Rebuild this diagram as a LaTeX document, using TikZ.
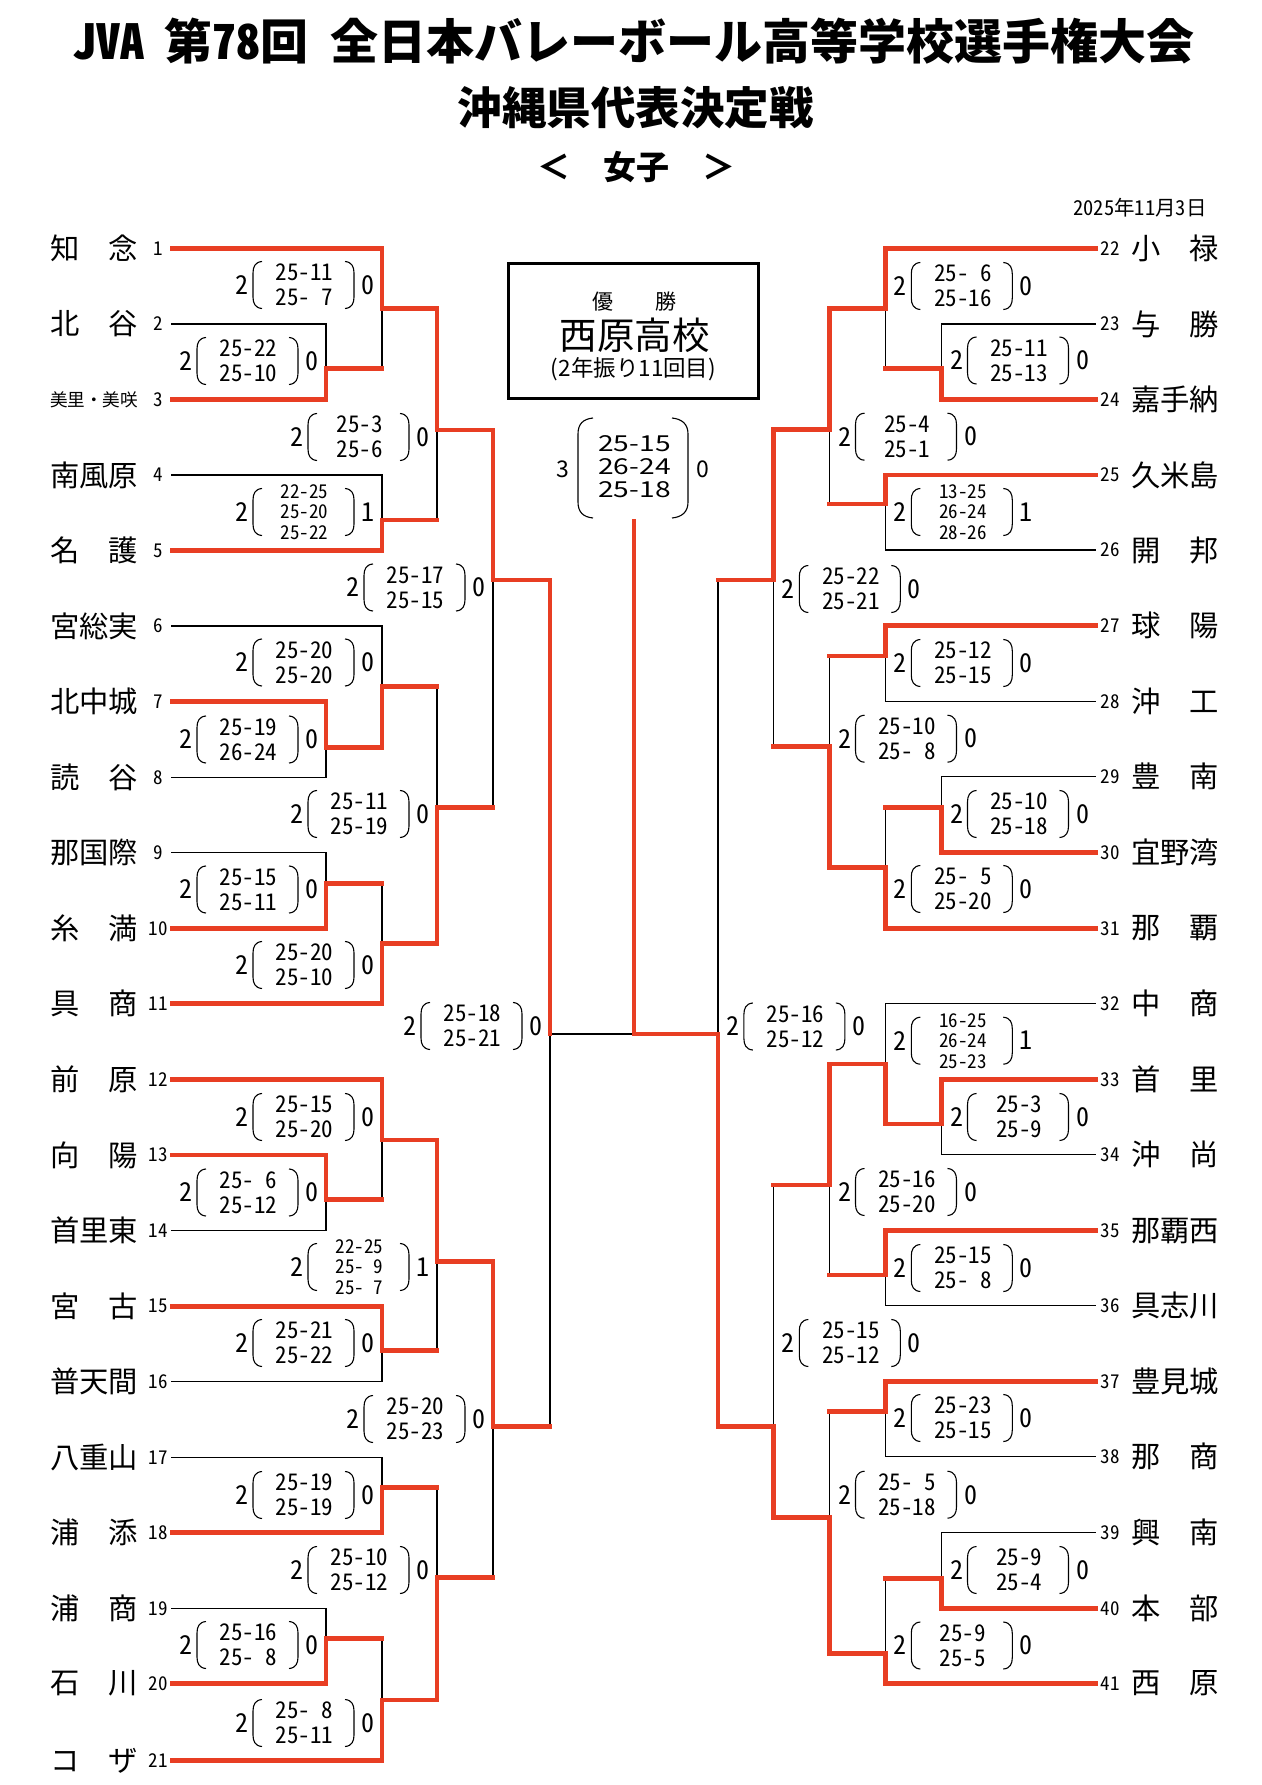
\documentclass[tikz,border=0pt]{standalone}
\usepackage{fontspec}
\usepackage{graphicx}
\newfontfamily\jp{Noto Sans CJK JP}
\newfontfamily\jph[RawFeature=+hwid]{Noto Sans CJK JP}
\definecolor{vred}{RGB}{232,62,35}
\pgfdeclarelayer{back}
\pgfdeclarelayer{bg}
\pgfsetlayers{back,bg,main}
\tikzset{
  win/.style={draw=vred, line width=4.7pt, line cap=rect},
  lose/.style={draw=black, line width=1.5pt, line cap=rect},
  tname/.style={font=\jp\fontsize{29.3}{30}\selectfont, inner sep=0pt},
  tnames/.style={font=\jp\fontsize{17.6}{18}\selectfont, inner sep=0pt},
  tnum/.style={font=\jph\fontsize{19}{20}\selectfont, inner sep=0pt},
  scnum/.style={font=\jph\fontsize{26}{26}\selectfont, inner sep=0pt},
  sctwo/.style={font=\jph\fontsize{23}{25}\selectfont, align=center, inner sep=0pt},
  scthree/.style={font=\jph\fontsize{19}{20.5}\selectfont, align=center, inner sep=0pt},
  brk/.style={draw=black, line width=1.1pt},
  wbox/.style={draw=black, line width=3.3pt, minimum width=250pt, minimum height=135pt, inner sep=0pt},
}
% match: id, X, ywin, ylose, yout, Xnext, outstyle
\newcommand\mybout[7]{%
  \coordinate (#1w) at (#2,#3);
  \coordinate (#1l) at (#2,#4);
  \coordinate (#1o) at (#2,#5);
  \coordinate (#1n) at (#6,#5);
  \begin{pgfonlayer}{bg}\draw[lose] (#1l) -- (#1o);\end{pgfonlayer}
  \draw[win] (#1w) -- (#1o);
  \draw[#7] (#1o) -- (#1n);
}
% team left: num, y, name, target, linestyle, namestyle
\newcommand\myteamL[6]{%
  \node[tnum] (tn#1) at (158,#2) {#1};
  \node[#6] (tm#1) at (94,#2) {#3};
  \coordinate (ts#1) at (172,#2);
  \draw[#5] (ts#1) -- (ts#1 -| #4);
}
\newcommand\myteamR[6]{%
  \node[tnum] (tn#1) at (1110,#2) {#1};
  \node[#6] (tm#1) at (1175,#2) {#3};
  \coordinate (ts#1) at (1095.3,#2);
  \draw[#5] (ts#1) -- (ts#1 -| #4);
}
% score: id, c, y, left, lines, right, style
\newcommand\myscore[7]{%
  \node[scnum] (#1a) at (#2,#3) {#4};
  \node[#7] (#1b) at (#2+62.5,#3) {#5};
  \node[scnum] (#1c) at (#2+126,#3) {#6};
  \draw[brk] (#2+20,#3-23.5) .. controls (#2+13,#3-23) and (#2+11,#3-18) .. (#2+11,#3-12) -- (#2+11,#3+12) .. controls (#2+11,#3+18) and (#2+13,#3+23) .. (#2+20,#3+23.5);
  \draw[brk] (#2+103,#3-23.5) .. controls (#2+110,#3-23) and (#2+112,#3-18) .. (#2+112,#3-12) -- (#2+112,#3+12) .. controls (#2+112,#3+18) and (#2+110,#3+23) .. (#2+103,#3+23.5);
}
\begin{document}
\begin{tikzpicture}[x=1pt,y=-1pt]
\begin{pgfonlayer}{back}
\fill[white] (0,0) rectangle (1261,1785);
\end{pgfonlayer}
\useasboundingbox (0,0) rectangle (1261,1785);

% titles
\node[anchor=west, inner sep=0pt, font=\jp\bfseries\fontsize{48}{48}\selectfont] (title1) at (72,41)
  {{\jph\bfseries JVA}\hspace{20pt}第{\jph\bfseries 78}回\hspace{22pt}全日本バレーボール高等学校選手権大会};
\node[inner sep=0pt, font=\jp\bfseries\fontsize{44.5}{45}\selectfont] (title2) at (635.5,108) {沖縄県代表決定戦};
\node[inner sep=0pt, font=\jp\bfseries\fontsize{33}{33}\selectfont] (title3) at (636,167) {＜　女子　＞};
\node[inner sep=0pt, font=\jph\fontsize{20.5}{21}\selectfont] (date) at (1140,208) {2025年11月3日};

% champion box
\node[wbox] (champ) at (633.3,330.8) {};
\node[inner sep=0pt, font=\jp\fontsize{21}{22}\selectfont] (yusho) at (634.5,302) {優\hspace{43pt}勝};
\node[inner sep=0pt, font=\jp\fontsize{37.5}{38}\selectfont] (wname) at (634.5,335) {西原高校};
\node[inner sep=0pt, font=\jp\fontsize{22.5}{23}\selectfont] (wtimes) at (633.5,369) {(2年振り11回目)};

% final score
\node[inner sep=0pt, font=\jp\fontsize{23}{23}\selectfont] (fa) at (563,469) {3};
\node[inner sep=0pt, font=\jp\fontsize{23}{23}\selectfont] (fc) at (703,469) {0};
\node[inner sep=0pt] (fb) at (634.5,467) {\scalebox{1.28}[1]{\parbox{70pt}{\centering\jp\fontsize{22}{23}\selectfont 25-15\\26-24\\25-18}}};
\draw[brk] (593,418) .. controls (583,419) and (578,424) .. (578,434) -- (578,502) .. controls (578,512) and (583,517) .. (593,518);
\draw[brk] (672,418) .. controls (682,419) and (688,424) .. (688,434) -- (688,502) .. controls (688,512) and (682,517) .. (672,518);

% left matches
\mybout{A1}{326}{399.5}{324}{368.3}{382}{win}
\mybout{A2}{382}{248.3}{368.3}{308.3}{437}{win}
\mybout{A3}{382}{550.5}{475}{520}{437}{win}
\mybout{A4}{437}{308.3}{520}{430}{493}{win}
\mybout{A5}{326}{701.7}{777.3}{747.3}{382}{win}
\mybout{A6}{382}{747.3}{626}{686.7}{437}{win}
\mybout{A7}{326}{928.3}{852.7}{883.3}{382}{win}
\mybout{A8}{382}{1003.5}{883.3}{943.3}{437}{win}
\mybout{A9}{437}{943.3}{686.7}{807.3}{493}{win}
\mybout{A10}{493}{430}{807.3}{580}{550}{win}
\mybout{A11}{326}{1155}{1230.7}{1199.3}{382}{win}
\mybout{A12}{382}{1079.3}{1199.3}{1140}{437}{win}
\mybout{A13}{382}{1306.3}{1381.7}{1350.7}{437}{win}
\mybout{A14}{437}{1140}{1350.7}{1261.7}{493}{win}
\mybout{A15}{382}{1532.7}{1457.3}{1487.3}{437}{win}
\mybout{A16}{326}{1683.3}{1608.3}{1638.3}{382}{win}
\mybout{A17}{382}{1760.7}{1638.3}{1700}{437}{win}
\mybout{A18}{437}{1700}{1487.3}{1577.3}{493}{win}
\mybout{A19}{493}{1261.7}{1577.3}{1426.7}{550}{win}
\coordinate (A20w) at (550,580);
\coordinate (A20l) at (550,1426.7);
\coordinate (A20o) at (550,1034);
\coordinate (FJ) at (634,1034);
\coordinate (FT) at (634,521);
\begin{pgfonlayer}{bg}
\draw[lose] (A20l) -- (A20o);
\draw[lose] (A20o) -- (FJ);
\end{pgfonlayer}
\draw[win] (A20w) -- (A20o);

% right matches
\mybout{B1}{941.5}{399.3}{324}{368.3}{885.3}{win}
\mybout{B2}{885.3}{248.3}{368.3}{308.3}{829.5}{win}
\mybout{B3}{885.3}{475}{550}{504}{829.5}{win}
\mybout{B4}{829.5}{308.3}{504}{429.3}{773.3}{win}
\mybout{B5}{885.3}{625.7}{701.7}{656}{829.5}{win}
\mybout{B6}{941.5}{852.7}{776.7}{807.7}{885.3}{win}
\mybout{B7}{885.3}{928.3}{807.7}{867.3}{829.5}{win}
\mybout{B8}{829.5}{867.3}{656}{746.7}{773.3}{win}
\mybout{B9}{773.3}{429.3}{746.7}{580}{717.9}{win}
\mybout{B10}{941.5}{1079.3}{1154.3}{1124}{885.3}{win}
\mybout{B11}{885.3}{1124}{1003.3}{1064}{829.5}{win}
\mybout{B12}{885.3}{1230.7}{1305.7}{1275}{829.5}{win}
\mybout{B13}{829.5}{1064}{1275}{1185}{773.3}{win}
\mybout{B14}{885.3}{1381.7}{1456.7}{1411.7}{829.5}{win}
\mybout{B15}{941.5}{1608.3}{1532.7}{1578.3}{885.3}{win}
\mybout{B16}{885.3}{1683.3}{1578.3}{1653.3}{829.5}{win}
\mybout{B17}{829.5}{1653.3}{1411.7}{1517.3}{773.3}{win}
\mybout{B18}{773.3}{1517.3}{1185}{1426.7}{717.9}{win}
\mybout{B19}{717.9}{1426.7}{580}{1034}{634}{win}
\draw[win] (FT) -- (FJ);

% left teams
\myteamL{1}{248.3}{知　念}{A2w}{win}{tname}
\myteamL{2}{324}{北　谷}{A1l}{lose}{tname}
\myteamL{3}{399.5}{美里・美咲}{A1w}{win}{tnames}
\myteamL{4}{475}{南風原}{A3l}{lose}{tname}
\myteamL{5}{550.5}{名　護}{A3w}{win}{tname}
\myteamL{6}{626}{宮総実}{A6l}{lose}{tname}
\myteamL{7}{701.7}{北中城}{A5w}{win}{tname}
\myteamL{8}{777.3}{読　谷}{A5l}{lose}{tname}
\myteamL{9}{852.7}{那国際}{A7l}{lose}{tname}
\myteamL{10}{928.3}{糸　満}{A7w}{win}{tname}
\myteamL{11}{1003.5}{具　商}{A8w}{win}{tname}
\myteamL{12}{1079.3}{前　原}{A12w}{win}{tname}
\myteamL{13}{1155}{向　陽}{A11w}{win}{tname}
\myteamL{14}{1230.7}{首里東}{A11l}{lose}{tname}
\myteamL{15}{1306.3}{宮　古}{A13w}{win}{tname}
\myteamL{16}{1381.7}{普天間}{A13l}{lose}{tname}
\myteamL{17}{1457.3}{八重山}{A15l}{lose}{tname}
\myteamL{18}{1532.7}{浦　添}{A15w}{win}{tname}
\myteamL{19}{1608.3}{浦　商}{A16l}{lose}{tname}
\myteamL{20}{1683.3}{石　川}{A16w}{win}{tname}
\myteamL{21}{1760.7}{コ　ザ}{A17w}{win}{tname}

% right teams
\myteamR{22}{248.3}{小　禄}{B2w}{win}{tname}
\myteamR{23}{324}{与　勝}{B1l}{lose}{tname}
\myteamR{24}{399.3}{嘉手納}{B1w}{win}{tname}
\myteamR{25}{475}{久米島}{B3w}{win}{tname}
\myteamR{26}{550}{開　邦}{B3l}{lose}{tname}
\myteamR{27}{625.7}{球　陽}{B5w}{win}{tname}
\myteamR{28}{701.7}{沖　工}{B5l}{lose}{tname}
\myteamR{29}{776.7}{豊　南}{B6l}{lose}{tname}
\myteamR{30}{852.7}{宜野湾}{B6w}{win}{tname}
\myteamR{31}{928.3}{那　覇}{B7w}{win}{tname}
\myteamR{32}{1003.3}{中　商}{B11l}{lose}{tname}
\myteamR{33}{1079.3}{首　里}{B10w}{win}{tname}
\myteamR{34}{1154.3}{沖　尚}{B10l}{lose}{tname}
\myteamR{35}{1230.7}{那覇西}{B12w}{win}{tname}
\myteamR{36}{1305.7}{具志川}{B12l}{lose}{tname}
\myteamR{37}{1381.7}{豊見城}{B14w}{win}{tname}
\myteamR{38}{1456.7}{那　商}{B14l}{lose}{tname}
\myteamR{39}{1532.7}{興　南}{B15l}{lose}{tname}
\myteamR{40}{1608.3}{本　部}{B15w}{win}{tname}
\myteamR{41}{1683.3}{西　原}{B16w}{win}{tname}

% left scores
\myscore{sAb}{242}{285}{2}{25-11\\25-\phantom{0}7}{0}{sctwo}
\myscore{sAa}{186}{361}{2}{25-22\\25-10}{0}{sctwo}
\myscore{sAd}{297}{437}{2}{25-3\\25-6}{0}{sctwo}
\myscore{sAc}{242}{512}{2}{22-25\\25-20\\25-22}{1}{scthree}
\myscore{sAj}{353}{587.5}{2}{25-17\\25-15}{0}{sctwo}
\myscore{sAf}{242}{662.5}{2}{25-20\\25-20}{0}{sctwo}
\myscore{sAe}{186}{739.5}{2}{25-19\\26-24}{0}{sctwo}
\myscore{sAi}{297}{814}{2}{25-11\\25-19}{0}{sctwo}
\myscore{sAg}{186}{889.5}{2}{25-15\\25-11}{0}{sctwo}
\myscore{sAh}{242}{965}{2}{25-20\\25-10}{0}{sctwo}
\myscore{sAt}{410}{1026}{2}{25-18\\25-21}{0}{sctwo}
\myscore{sAl}{242}{1117}{2}{25-15\\25-20}{0}{sctwo}
\myscore{sAk}{186}{1192.5}{2}{25-\phantom{0}6\\25-12}{0}{sctwo}
\myscore{sAn}{297}{1267}{2}{22-25\\25-\phantom{0}9\\25-\phantom{0}7}{1}{scthree}
\myscore{sAm}{242}{1343}{2}{25-21\\25-22}{0}{sctwo}
\myscore{sAs}{353}{1419}{2}{25-20\\25-23}{0}{sctwo}
\myscore{sAo}{242}{1495}{2}{25-19\\25-19}{0}{sctwo}
\myscore{sAr}{297}{1570}{2}{25-10\\25-12}{0}{sctwo}
\myscore{sAp}{186}{1645}{2}{25-16\\25-\phantom{0}8}{0}{sctwo}
\myscore{sAq}{242}{1723}{2}{25-\phantom{0}8\\25-11}{0}{sctwo}

% right scores
\myscore{sBb}{900.3}{286}{2}{25-\phantom{0}6\\25-16}{0}{sctwo}
\myscore{sBa}{956.5}{360.5}{2}{25-11\\25-13}{0}{sctwo}
\myscore{sBd}{844.5}{436.7}{2}{25-4\\25-1}{0}{sctwo}
\myscore{sBc}{900.3}{512}{2}{13-25\\26-24\\28-26}{1}{scthree}
\myscore{sBi}{788.3}{589}{2}{25-22\\25-21}{0}{sctwo}
\myscore{sBe}{900.3}{663}{2}{25-12\\25-15}{0}{sctwo}
\myscore{sBh}{844.5}{738.7}{2}{25-10\\25-\phantom{0}8}{0}{sctwo}
\myscore{sBf}{956.5}{814}{2}{25-10\\25-18}{0}{sctwo}
\myscore{sBg}{900.3}{889}{2}{25-\phantom{0}5\\25-20}{0}{sctwo}
\myscore{sBs}{732.9}{1026.5}{2}{25-16\\25-12}{0}{sctwo}
\myscore{sBk}{900.3}{1040.7}{2}{16-25\\26-24\\25-23}{1}{scthree}
\myscore{sBj}{956.5}{1117}{2}{25-3\\25-9}{0}{sctwo}
\myscore{sBm}{844.5}{1192}{2}{25-16\\25-20}{0}{sctwo}
\myscore{sBl}{900.3}{1268}{2}{25-15\\25-\phantom{0}8}{0}{sctwo}
\myscore{sBr}{788.3}{1343}{2}{25-15\\25-12}{0}{sctwo}
\myscore{sBn}{900.3}{1418}{2}{25-23\\25-15}{0}{sctwo}
\myscore{sBq}{844.5}{1494.7}{2}{25-\phantom{0}5\\25-18}{0}{sctwo}
\myscore{sBo}{956.5}{1570}{2}{25-9\\25-4}{0}{sctwo}
\myscore{sBp}{900.3}{1645.5}{2}{25-9\\25-5}{0}{sctwo}
\end{tikzpicture}
\end{document}
